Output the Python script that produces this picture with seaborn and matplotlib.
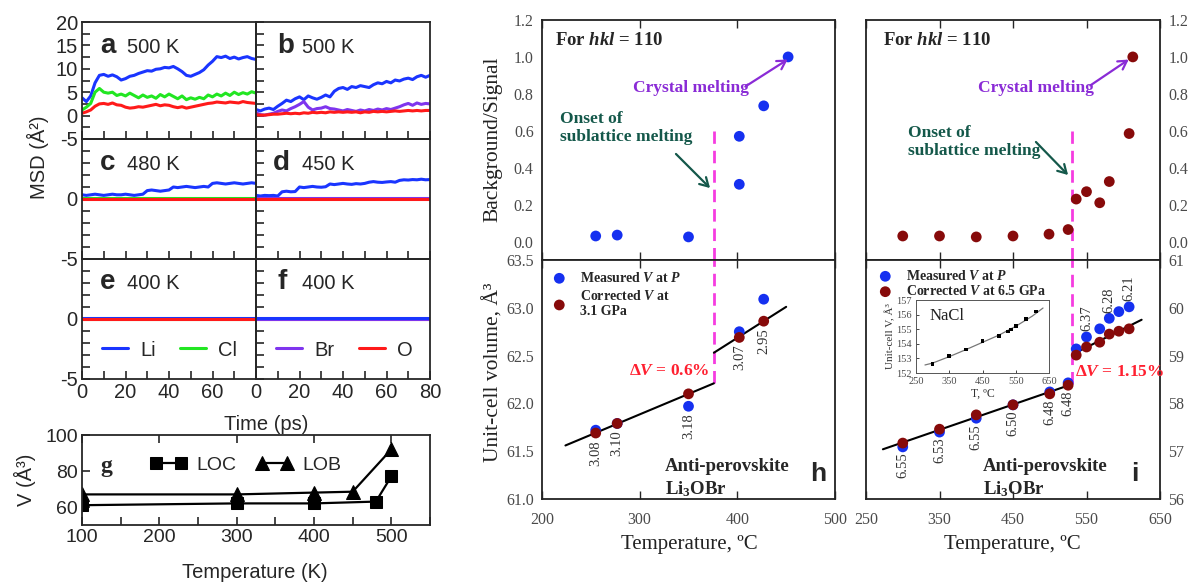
import numpy as np
import matplotlib
matplotlib.use("Agg")
import matplotlib.pyplot as plt
from matplotlib.ticker import MultipleLocator
import seaborn as sns

sns.set_style("ticks")
plt.rcParams["font.family"] = ["Liberation Sans", "DejaVu Sans"]
plt.rcParams["mathtext.fontset"] = "custom"
plt.rcParams["mathtext.rm"] = "Liberation Serif:bold"
plt.rcParams["mathtext.it"] = "Liberation Serif:italic:bold"
plt.rcParams["mathtext.bf"] = "Liberation Serif:bold"
SERIF = "Liberation Serif"

# ---------------- MSD curves (A^2), read every 2 ps ----------------
t_msd = np.arange(0, 81, 2)
a_li = [3.8, 3.0, 4.2, 7.0, 8.6, 8.8, 8.4, 8.7, 8.3, 7.6,
        7.9, 8.4, 8.6, 9.0, 9.3, 9.6, 9.5, 9.9, 10.0, 10.3,
        10.2, 10.5, 10.0, 9.4, 8.6, 8.4, 8.8, 9.2, 9.8, 10.8,
        11.6, 12.6, 12.4, 12.7, 12.2, 12.5, 12.1, 12.4, 12.6, 12.2,
        12.0]
a_cl = [1.2, 1.8, 2.6, 5.0, 5.8, 5.0, 4.8, 5.0, 4.3, 4.6,
        4.2, 4.8, 4.3, 3.8, 4.4, 3.9, 4.2, 3.7, 4.5, 4.0,
        4.6, 4.1, 3.6, 4.2, 3.4, 3.8, 3.5, 3.9, 3.6, 4.4,
        4.0, 4.6, 4.2, 4.8, 4.3, 5.0, 4.5, 4.9, 4.6, 5.1,
        4.8]
a_o = [0.5, 0.8, 1.2, 2.0, 2.5, 2.6, 2.4, 2.7, 2.3, 2.2,
       1.8, 1.6, 1.7, 1.9, 1.8, 2.0, 2.2, 2.4, 2.1, 2.3,
       2.2, 1.9, 1.7, 1.9, 1.6, 1.8, 2.0, 2.2, 2.4, 2.6,
       2.7, 2.9, 2.8, 2.7, 2.9, 2.8, 2.7, 3.0, 2.8, 2.7,
       2.6]
b_li = [1.3, 1.0, 1.4, 1.6, 1.3, 2.0, 2.6, 3.3, 3.0, 3.6,
        4.0, 3.4, 4.2, 3.8, 3.5, 3.9, 4.4, 4.0, 5.2, 5.8,
        6.0, 5.6, 6.2, 6.0, 6.4, 6.2, 6.0, 6.6, 7.0, 6.8,
        7.3, 7.0, 7.6, 7.4, 7.8, 8.0, 7.7, 8.3, 8.6, 8.2,
        8.6]
b_br = [0.6, 0.2, 0.1, 0.3, 0.5, 0.9, 1.2, 1.0, 1.5, 1.9,
        2.4, 3.0, 1.8, 1.2, 1.5, 1.6, 1.9, 1.5, 1.4, 1.2,
        1.0, 1.3, 1.1, 0.9, 1.2, 1.0, 1.3, 1.1, 1.4, 1.2,
        1.5, 1.3, 1.6, 1.9, 2.3, 2.6, 2.2, 2.7, 2.4, 2.6,
        2.5]
b_o = [0.2, 0.1, 0.1, 0.2, 0.3, 0.3, 0.4, 0.5, 0.4, 0.5,
       0.4, 0.6, 0.5, 0.7, 0.6, 0.7, 0.6, 0.8, 0.7, 0.8,
       0.7, 0.8, 0.7, 0.8, 0.6, 0.8, 0.7, 0.9, 0.8, 0.9,
       0.8, 0.9, 1.0, 0.9, 1.0, 1.1, 1.0, 1.1, 1.0, 1.1,
       1.1]
c_li = [0.35, 0.3, 0.35, 0.4, 0.35, 0.3, 0.35, 0.4, 0.35, 0.35, 0.4, 0.35, 0.3, 0.35, 0.4,
        0.7, 0.75, 0.7, 0.65, 0.7, 0.75,
        1.0, 0.95, 1.0, 1.05, 1.0, 0.95, 1.0, 1.05, 1.0,
        1.3, 1.35, 1.3, 1.25, 1.3, 1.35, 1.3, 1.25, 1.3, 1.35, 1.3]
d_li = [0.3, 0.25, 0.3, 0.28, 0.3, 0.25,
        0.6, 0.65, 0.6, 0.62,
        1.0, 0.95, 1.0, 1.05, 1.0, 0.98, 1.02,
        1.25, 1.2, 1.25, 1.3, 1.25, 1.22, 1.28, 1.25, 1.3,
        1.4, 1.45, 1.4, 1.38, 1.42, 1.45, 1.4,
        1.55, 1.6, 1.58, 1.62, 1.6, 1.65, 1.6, 1.62]
t_flat = [0, 80]
c_cl = [0.12, 0.12]
c_o = [0.0, 0.0]
d_br = [0.05, 0.05]
d_o = [0.0, 0.0]
e_li = [0.06, 0.06]
e_cl = [0.04, 0.04]
e_o = [0.0, 0.0]
f_li = [0.05, 0.05]
f_br = [0.02, 0.02]
f_o = [0.0, 0.0]

# ---------------- panel g: volume vs temperature ----------------
g_T_loc = [100, 300, 400, 480, 500]
g_loc = [61, 62, 62, 63, 77]
g_T_lob = [100, 300, 400, 450, 500]
g_lob = [67, 67, 68, 68.5, 92]

# ---------------- panel h (3.1 GPa) ----------------
h_bg_T = [255, 277, 350, 402, 402, 427, 452]
h_bg = [0.03, 0.035, 0.025, 0.31, 0.57, 0.735, 1.0]
h_T = [255, 277, 350, 402, 427]
h_meas = [61.72, 61.79, 61.97, 62.75, 63.09]
h_corr = [61.69, 61.79, 62.10, 62.69, 62.86]
h_P = ["3.08", "3.10", "3.18", "3.07", "2.95"]
h_fit1_T, h_fit1_V = [224, 376], [61.56, 62.21]
h_fit2_T, h_fit2_V = [376, 450], [62.53, 63.01]
h_onset = 376

# ---------------- panel i (6.5 GPa) ----------------
i_bg_T = [300, 350, 400, 450, 499, 525, 536, 550, 568, 581, 608, 613]
i_bg = [0.03, 0.03, 0.025, 0.03, 0.04, 0.065, 0.23, 0.27, 0.21, 0.325, 0.585, 1.0]
i_T = [300, 350, 400, 450, 500, 525, 536, 550, 568, 581, 594, 608]
i_meas = [57.09, 57.40, 57.69, 57.97, 58.24, 58.43, 59.14, 59.39, 59.56, 59.78, 59.92, 60.02]
i_corr = [57.17, 57.46, 57.76, 57.97, 58.20, 58.38, 59.01, 59.18, 59.28, 59.45, 59.51, 59.56]
i_P_T = [300, 350, 400, 450, 500, 525, 550, 581, 608]
i_P = ["6.55", "6.53", "6.55", "6.50", "6.48", "6.48", "6.37", "6.28", "6.21"]
i_fit1_T, i_fit1_V = [273, 530], [57.04, 58.40]
i_fit2_T, i_fit2_V = [534, 625], [59.05, 59.75]
i_onset = 530

# inset: NaCl calibrant
nacl_T = [300, 350, 400, 450, 500, 526, 536, 550, 580, 610]
nacl_V = [152.62, 153.15, 153.62, 154.17, 154.55, 154.84, 154.98, 155.24, 155.71, 156.22]
nacl_fit_T = [277, 300, 350, 400, 450, 500, 550, 600, 632]
nacl_fit_V = [152.55, 152.68, 153.12, 153.6, 154.1, 154.6, 155.2, 155.9, 156.45]

C_LI, C_CL, C_BR, C_O = "#1a35ff", "#22e622", "#7f35ee", "#ff1a1a"
BLUE, DRED = "#1530f0", "#870a0a"
MAGENTA, DGREEN, PURPLE = "#f53ce0", "#14584a", "#8a2bd6"
GRAY = "#4a4a4a"

W, H = 1191, 582
fig = plt.figure(figsize=(W / 100, H / 100), dpi=100)


def add_ax(l, t, r, b):
    return fig.add_axes([l / W, 1 - b / H, (r - l) / W, (b - t) / H])


def ftext(x, y, s, **kw):
    fig.text(x / W, 1 - y / H, s, **kw)


# ================= MSD panels a-f =================
rows = [(22, 139), (139, 259), (259, 379)]
cols = [(82, 256), (256, 430)]
msd_axes = {}
for r, (top, bot) in enumerate(rows):
    for c, (lft, rgt) in enumerate(cols):
        msd_axes["abcdef"[2 * r + c]] = add_ax(lft, top, rgt, bot)

series = {
    "a": [(t_msd, a_li, C_LI, None), (t_msd, a_cl, C_CL, None), (t_msd, a_o, C_O, None)],
    "b": [(t_msd, b_li, C_LI, None), (t_msd, b_br, C_BR, None), (t_msd, b_o, C_O, None)],
    "c": [(t_msd, c_li, C_LI, None), (t_flat, c_cl, C_CL, None), (t_flat, c_o, C_O, None)],
    "d": [(t_msd, d_li, C_LI, None), (t_flat, d_br, C_BR, None), (t_flat, d_o, C_O, None)],
    "e": [(t_flat, e_li, C_LI, "Li"), (t_flat, e_cl, C_CL, "Cl"), (t_flat, e_o, C_O, None)],
    "f": [(t_flat, f_o, C_O, "O"), (t_flat, f_br, C_BR, "Br"), (t_flat, f_li, C_LI, None)],
}
temps = {"a": "500 K", "b": "500 K", "c": "480 K", "d": "450 K", "e": "400 K", "f": "400 K"}

for key, ax in msd_axes.items():
    for x, y, col, lab in series[key]:
        sns.lineplot(x=x, y=y, ax=ax, color=col, lw=2.2,
                     label=lab if lab else "_nolegend_", legend=False)
    ax.set_xlim(0, 80)
    ax.set_xticks([0, 20, 40, 60, 80])
    ax.xaxis.set_minor_locator(MultipleLocator(10))
    if key in "ab":
        ax.set_ylim(-5, 20)
        ax.set_yticks([-5, 0, 5, 10, 15, 20])
        ax.yaxis.set_minor_locator(MultipleLocator(2.5))
        ylabels = ["-5", "0", "5", "10", "15", "20"]
    else:
        ax.set_ylim(-5, 5)
        ax.set_yticks([-5, 0, 5])
        ax.yaxis.set_minor_locator(MultipleLocator(1))
        ylabels = ["-5", "0", ""]
    if key in "ace":
        ax.set_yticklabels(ylabels)
    else:
        ax.set_yticklabels([])
    if key == "e":
        ax.set_xticklabels(["0", "20", "40", "60", ""])
    elif key == "f":
        ax.set_xticklabels(["0", "20", "40", "60", "80"])
    else:
        ax.set_xticklabels([])
    ax.tick_params(which="both", direction="in", length=6, width=1.2,
                   top=False, right=False, labelsize=14.5, pad=3)
    for s in ax.spines.values():
        s.set_linewidth(1.3)
    ax.set_xlabel("")
    ax.set_ylabel("")
    ax.set_facecolor("none")

for key, (lx, bx, by) in {"a": (100, 127, 53), "b": (277, 302, 53), "c": (100, 127, 170),
                          "d": (273, 302, 170), "e": (100, 127, 289), "f": (277, 302, 289)}.items():
    ftext(lx, by, key, fontsize=20, fontweight="bold", va="baseline")
    ftext(bx, by, temps[key], fontsize=14.5, va="baseline")

for key, x0 in [("e", 92), ("f", 266)]:
    handles, labels = msd_axes[key].get_legend_handles_labels()
    if key == "f":
        handles, labels = handles[::-1], labels[::-1]
    msd_axes[key].legend(handles, labels, loc="center left",
                         bbox_to_anchor=(x0 / W, 1 - 350 / H),
                         bbox_transform=fig.transFigure, ncol=2, frameon=False,
                         fontsize=14.5, handlelength=1.3, handletextpad=0.6,
                         columnspacing=1.2, borderpad=0)

ftext(38, 157, "MSD (Å²)", rotation=90, ha="center", va="center", fontsize=14.5)
ftext(266, 425, "Time (ps)", ha="center", va="center", fontsize=14.5)

# ================= panel g =================
ax_g = add_ax(82, 435, 430, 525)
sns.lineplot(x=g_T_loc, y=g_loc, ax=ax_g, color="black", lw=1.6, marker="s",
             markersize=8, markeredgecolor="black", label="LOC", legend=False)
sns.lineplot(x=g_T_lob, y=g_lob, ax=ax_g, color="black", lw=1.6, marker="^",
             markersize=9.5, markeredgecolor="black", label="LOB", legend=False)
ax_g.set_xlim(100, 550)
ax_g.set_ylim(50, 100)
ax_g.set_xticks([100, 200, 300, 400, 500])
ax_g.xaxis.set_minor_locator(MultipleLocator(50))
ax_g.set_yticks([60, 80, 100])
ax_g.tick_params(which="both", direction="in", length=6, width=1.2, top=True,
                 right=False, labelsize=14, pad=3)
ax_g.tick_params(which="minor", top=False)
for s in ax_g.spines.values():
    s.set_linewidth(1.3)
ax_g.set_xlabel("")
ax_g.set_ylabel("")
ax_g.legend(loc="center left", bbox_to_anchor=(140 / W, 1 - 465 / H),
            bbox_transform=fig.transFigure, ncol=2, frameon=False, fontsize=14,
            numpoints=2, handlelength=1.9, handletextpad=0.5, columnspacing=1.0,
            borderpad=0)
ftext(100, 472, "g", fontsize=17, fontweight="bold", family=SERIF, va="baseline")
ftext(25, 480, "V (Å³)", rotation=90, ha="center", va="center", fontsize=14.5)
ftext(255, 572, "Temperature (K)", ha="center", va="center", fontsize=14.5)


# ================= panels h and i =================
def style_pair(ax_top, ax_bot, xlim, xticks, ylim_bot, yticks_bot, ylabels_bot, side):
    for ax in (ax_top, ax_bot):
        ax.set_xlim(*xlim)
        ax.set_xticks(xticks)
        ax.set_xlabel("")
        ax.set_ylabel("")
        ax.tick_params(axis="x", direction="in", length=6, width=1.0, top=True,
                       bottom=True, labelsize=11.5, labelcolor=GRAY,
                       labelfontfamily=SERIF, pad=9)
        ax.tick_params(axis="y", length=0, labelsize=11.5, labelcolor=GRAY,
                       labelfontfamily=SERIF, pad=6,
                       left=(side == "left"), right=(side == "right"),
                       labelleft=(side == "left"), labelright=(side == "right"))
        for s in ax.spines.values():
            s.set_linewidth(1.3)
            s.set_color("#222222")
    ax_top.set_xticklabels([])
    ax_top.set_ylim(-0.1, 1.2)
    ax_top.set_yticks([0, 0.2, 0.4, 0.6, 0.8, 1.0, 1.2])
    ax_top.set_yticklabels(["0.0", "0.2", "0.4", "0.6", "0.8", "1.0", "1.2"])
    ax_bot.set_ylim(*ylim_bot)
    ax_bot.set_yticks(yticks_bot)
    ax_bot.set_yticklabels(ylabels_bot)


ax_h1 = add_ax(542, 20, 835, 260)
ax_h2 = add_ax(542, 260, 835, 499)
ax_i1 = add_ax(866, 20, 1160, 260)
ax_i2 = add_ax(866, 260, 1160, 499)

# top: background / signal
sns.scatterplot(x=h_bg_T, y=h_bg, ax=ax_h1, color=BLUE, s=60, edgecolor="none", zorder=3)
sns.scatterplot(x=i_bg_T, y=i_bg, ax=ax_i1, color=DRED, s=60, edgecolor="none", zorder=3)

# bottom: unit-cell volume
for ax, T, vm, vc, f1T, f1V, f2T, f2V, corr_lab in [
        (ax_h2, h_T, h_meas, h_corr, h_fit1_T, h_fit1_V, h_fit2_T, h_fit2_V,
         "Corrected $V$ at\n3.1 GPa"),
        (ax_i2, i_T, i_meas, i_corr, i_fit1_T, i_fit1_V, i_fit2_T, i_fit2_V,
         "Corrected $V$ at 6.5 GPa")]:
    sns.lineplot(x=f1T, y=f1V, ax=ax, color="black", lw=1.5, zorder=2)
    sns.lineplot(x=f2T, y=f2V, ax=ax, color="black", lw=1.5, zorder=2)
    sns.scatterplot(x=T, y=vm, ax=ax, color=BLUE, s=60, edgecolor="none", zorder=3,
                    label="Measured $V$ at $P$")
    sns.scatterplot(x=T, y=vc, ax=ax, color=DRED, s=60, edgecolor="none", zorder=4,
                    label=corr_lab)

style_pair(ax_h1, ax_h2, (200, 500), [200, 300, 400, 500], (61.0, 63.5),
           [61.0, 61.5, 62.0, 62.5, 63.0, 63.5],
           ["61.0", "61.5", "62.0", "62.5", "63.0", "63.5"], "left")
style_pair(ax_i1, ax_i2, (250, 650), [250, 350, 450, 550, 650], (56, 61),
           [56, 57, 58, 59, 60, 61], ["56", "57", "58", "59", "60", "61"], "right")

# onset lines
for ax_t, ax_b, onset, vstart in [(ax_h1, ax_h2, h_onset, h_fit1_V[-1]),
                                  (ax_i1, ax_i2, i_onset, i_fit1_V[-1])]:
    ax_t.vlines(onset, ax_t.get_ylim()[0], 0.6, color=MAGENTA, lw=2,
                linestyles=(0, (4.5, 2.5)), zorder=1)
    ax_b.vlines(onset, vstart, ax_b.get_ylim()[1], color=MAGENTA, lw=2,
                linestyles=(0, (4.5, 2.5)), zorder=1)

# pressure labels
for T, vm, vc, p in zip(h_T, h_meas, h_corr, h_P):
    ax_h2.annotate(p, (T, min(vm, vc)), xytext=(0, -5), textcoords="offset points",
                   rotation=90, ha="center", va="top", fontsize=10.5,
                   family=SERIF, color="#333333")
for T, p in zip(i_P_T, i_P):
    k = i_T.index(T)
    if T < i_onset:
        ax_i2.annotate(p, (T, min(i_meas[k], i_corr[k])), xytext=(0, -4),
                       textcoords="offset points", rotation=90, ha="center",
                       va="top", fontsize=10.5, family=SERIF, color="#333333")
    else:
        ax_i2.annotate(p, (T, max(i_meas[k], i_corr[k])), xytext=(0, 4),
                       textcoords="offset points", rotation=90, ha="center",
                       va="bottom", fontsize=10.5, family=SERIF, color="#333333")

# legends
for ax, x0, y0, sp in [(ax_h2, 544, 264, 0.3), (ax_i2, 870, 262, 0.1)]:
    ax.legend(loc="upper left", bbox_to_anchor=(x0 / W, 1 - y0 / H),
              bbox_transform=fig.transFigure, frameon=False,
              prop=dict(family=SERIF, weight="bold", size=10),
              handletextpad=0.9, labelspacing=sp, borderpad=0, handlelength=1.2)


def panel_texts(xs, ys):
    (fx, cx, ox, ax_, ix, lx) = xs
    ftext(fx, 45, "For $hkl$ = 110", fontsize=13.5, family=SERIF, fontweight="bold",
          va="baseline")
    ftext(cx, 92, "Crystal melting", fontsize=12.5, family=SERIF, fontweight="bold",
          color=PURPLE, va="baseline")
    ftext(ox, ys[0], "Onset of", fontsize=12.5, family=SERIF, fontweight="bold",
          color=DGREEN, va="baseline")
    ftext(ox, ys[1], "sublattice melting", fontsize=12.5, family=SERIF,
          fontweight="bold", color=DGREEN, va="baseline")
    ftext(ax_, 471, "Anti-perovskite", fontsize=13.5, family=SERIF,
          fontweight="bold", va="baseline")
    ftext(ax_, 494, "Li$_{3}$OBr", fontsize=13.5, family=SERIF,
          fontweight="bold", va="baseline")
    ftext(lx, 481, ix, fontsize=19, fontweight="bold", va="baseline")


panel_texts((555, 633, 560, 665, "h", 810), (123, 141))
panel_texts((883, 978, 908, 983, "i", 1131), (137, 155))

ftext(710, 375, r"$\mathit{\Delta V}$ = 0.6%", fontsize=12.5, family=SERIF,
      fontweight="bold", color="#ff2030", ha="right", va="baseline")
ftext(1075, 376, r"$\mathit{\Delta V}$ = 1.15%", fontsize=12.5, family=SERIF,
      fontweight="bold", color="#ff2030", ha="left", va="baseline")


def arrow(x0, y0, x1, y1, col):
    fig.add_artist(matplotlib.patches.FancyArrowPatch(
        (x0 / W, 1 - y0 / H), (x1 / W, 1 - y1 / H), transform=fig.transFigure,
        arrowstyle="->,head_length=6,head_width=3.5", color=col, lw=1.6))


arrow(743, 88, 790, 58, PURPLE)
arrow(1088, 87, 1131, 58, PURPLE)
arrow(674, 152, 712, 190, DGREEN)
arrow(1034, 140, 1070, 177, DGREEN)

ftext(493, 139, "Background/Signal", rotation=90, ha="center", va="center",
      fontsize=15.5, family=SERIF, color="#222222")
ftext(493, 372, "Unit-cell volume, Å³", rotation=90, ha="center", va="center",
      fontsize=15.5, family=SERIF, color="#222222")
ftext(689, 545, "Temperature, ºC", ha="center", va="center", fontsize=15,
      family=SERIF, color="#222222")
ftext(1012, 545, "Temperature, ºC", ha="center", va="center", fontsize=15,
      family=SERIF, color="#222222")

# inset NaCl
ax_in = add_ax(916, 300, 1049, 373)
sns.lineplot(x=nacl_fit_T, y=nacl_fit_V, ax=ax_in, color="#777777", lw=0.9)
sns.scatterplot(x=nacl_T, y=nacl_V, ax=ax_in, color="black", marker="s", s=7,
                edgecolor="none", zorder=3)
ax_in.set_xlim(250, 650)
ax_in.set_ylim(152, 157)
ax_in.set_xticks([250, 350, 450, 550, 650])
ax_in.set_yticks([152, 153, 154, 155, 156, 157])
ax_in.tick_params(direction="in", length=2.5, width=0.6, labelsize=7.5,
                  labelcolor=GRAY, labelfontfamily=SERIF, pad=3)
for s in ax_in.spines.values():
    s.set_linewidth(0.7)
    s.set_color("#555555")
ax_in.set_xlabel("T, ºC", fontsize=8.5, family=SERIF, color="#333333", labelpad=1)
ax_in.set_ylabel("Unit-cell V, Å³", fontsize=8, family=SERIF, color="#333333",
                 labelpad=1)
ax_in.text(0.1, 0.72, "NaCl", transform=ax_in.transAxes, fontsize=12,
           family=SERIF, color="#222222")

fig.savefig("out.png", dpi=100)
